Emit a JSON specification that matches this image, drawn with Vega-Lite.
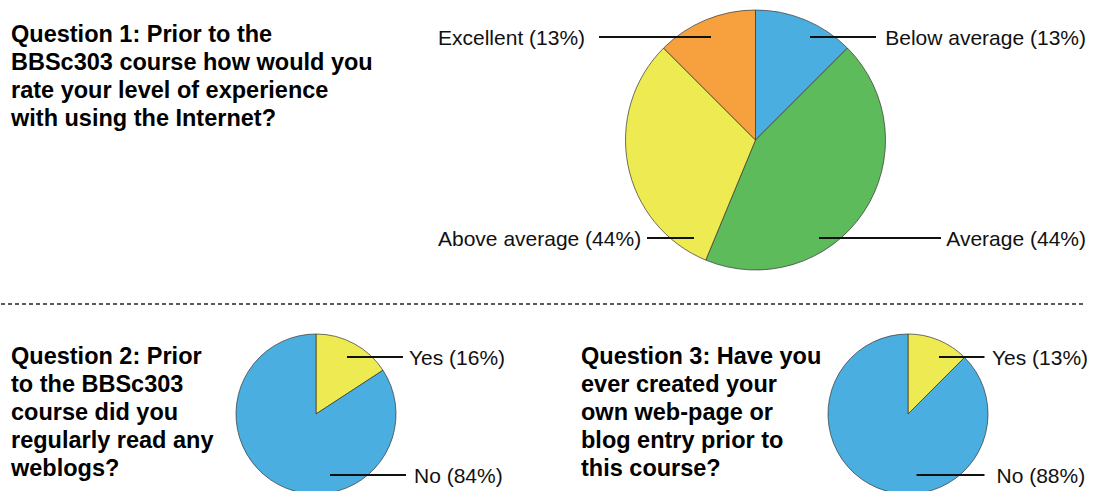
{
  "$schema": "https://vega.github.io/schema/vega-lite/v6.json",
  "padding": 0,
  "spacing": 0,
  "resolve": {"scale": {"color": "independent", "theta": "independent"}},
  "config": {"view": {"stroke": null}, "font": "Liberation Sans"},
  "datasets": {
    "questions": [
      {"q": "Q1", "text": "Question 1: Prior to the\nBBSc303 course how would you\nrate your level of experience\nwith using the Internet?"},
      {"q": "Q2", "text": "Question 2: Prior\nto the BBSc303\ncourse did you\nregularly read any\nweblogs?"},
      {"q": "Q3", "text": "Question 3: Have you\never created your\nown web-page or\nblog entry prior to\nthis course?"}
    ],
    "q1": [
      {"seq": 1, "rating": "Below average", "count": 2, "label": "Below average (13%)"},
      {"seq": 2, "rating": "Average", "count": 7, "label": "Average (44%)"},
      {"seq": 3, "rating": "Above average", "count": 5, "label": "Above average (44%)"},
      {"seq": 4, "rating": "Excellent", "count": 2, "label": "Excellent (13%)"}
    ],
    "q2": [
      {"seq": 1, "answer": "Yes", "count": 3, "label": "Yes (16%)"},
      {"seq": 2, "answer": "No", "count": 16, "label": "No (84%)"}
    ],
    "q3": [
      {"seq": 1, "answer": "Yes", "count": 2, "label": "Yes (13%)"},
      {"seq": 2, "answer": "No", "count": 14, "label": "No (88%)"}
    ],
    "blank": [{}]
  },
  "vconcat": [
    {
      "spacing": 0,
      "bounds": "flush",
      "resolve": {"scale": {"color": "independent", "theta": "independent"}},
      "hconcat": [
        {
          "width": 420, "height": 280,
          "data": {"name": "questions"},
          "transform": [{"filter": "datum.q === 'Q1'"}],
          "mark": {"type": "text", "align": "left", "baseline": "alphabetic", "fontSize": 23.5, "fontWeight": "bold", "lineHeight": 28, "lineBreak": "\n", "fill": "#000", "dx": 10, "dy": 41.5},
          "encoding": {
            "x": {"datum": 0, "scale": {"domain": [0, 1]}, "axis": null},
            "y": {"datum": 1, "scale": {"domain": [0, 1]}, "axis": null},
            "text": {"field": "text"}
          }
        },
        {
          "width": 669, "height": 280,
          "data": {"name": "q1"},
          "layer": [
            {
              "mark": {"type": "arc", "outerRadius": 130, "stroke": "#333", "strokeWidth": 0.7},
              "encoding": {
                "theta": {"field": "count", "type": "quantitative", "stack": true},
                "order": {"field": "seq", "type": "quantitative"},
                "color": {"field": "rating", "type": "nominal", "legend": null,
                  "scale": {"domain": ["Below average", "Average", "Above average", "Excellent"], "range": ["#4aafe0", "#5dbb5c", "#eeea52", "#f6a13d"]}}
              }
            },
            {
              "transform": [{"filter": "datum.rating === 'Below average'"}],
              "layer": [
                {"mark": {"type": "text", "align": "right", "baseline": "alphabetic", "fontSize": 21, "fill": "#111"},
                 "encoding": {"x": {"datum": 330.5, "scale": {"domain": [-334.5, 334.5], "nice": false}, "axis": null}, "y": {"datum": -95, "scale": {"domain": [-140, 140], "nice": false, "reverse": true}, "axis": null}, "text": {"field": "label"}}},
                {"mark": {"type": "rule", "strokeWidth": 2, "color": "#111"},
                 "encoding": {"x": {"datum": 54.5, "scale": {"domain": [-334.5, 334.5], "nice": false}, "axis": null}, "x2": {"datum": 120.5}, "y": {"datum": -103, "scale": {"domain": [-140, 140], "nice": false, "reverse": true}, "axis": null}}}
              ]
            },
            {
              "transform": [{"filter": "datum.rating === 'Average'"}],
              "layer": [
                {"mark": {"type": "text", "align": "right", "baseline": "alphabetic", "fontSize": 21, "fill": "#111"},
                 "encoding": {"x": {"datum": 330.5, "scale": {"domain": [-334.5, 334.5], "nice": false}, "axis": null}, "y": {"datum": 106, "scale": {"domain": [-140, 140], "nice": false, "reverse": true}, "axis": null}, "text": {"field": "label"}}},
                {"mark": {"type": "rule", "strokeWidth": 2, "color": "#111"},
                 "encoding": {"x": {"datum": 63.5, "scale": {"domain": [-334.5, 334.5], "nice": false}, "axis": null}, "x2": {"datum": 185.5}, "y": {"datum": 98, "scale": {"domain": [-140, 140], "nice": false, "reverse": true}, "axis": null}}}
              ]
            },
            {
              "transform": [{"filter": "datum.rating === 'Above average'"}],
              "layer": [
                {"mark": {"type": "text", "align": "left", "baseline": "alphabetic", "fontSize": 21, "fill": "#111"},
                 "encoding": {"x": {"datum": -317.5, "scale": {"domain": [-334.5, 334.5], "nice": false}, "axis": null}, "y": {"datum": 106, "scale": {"domain": [-140, 140], "nice": false, "reverse": true}, "axis": null}, "text": {"field": "label"}}},
                {"mark": {"type": "rule", "strokeWidth": 2, "color": "#111"},
                 "encoding": {"x": {"datum": -108.5, "scale": {"domain": [-334.5, 334.5], "nice": false}, "axis": null}, "x2": {"datum": -61.5}, "y": {"datum": 98, "scale": {"domain": [-140, 140], "nice": false, "reverse": true}, "axis": null}}}
              ]
            },
            {
              "transform": [{"filter": "datum.rating === 'Excellent'"}],
              "layer": [
                {"mark": {"type": "text", "align": "left", "baseline": "alphabetic", "fontSize": 21, "fill": "#111"},
                 "encoding": {"x": {"datum": -317.5, "scale": {"domain": [-334.5, 334.5], "nice": false}, "axis": null}, "y": {"datum": -95, "scale": {"domain": [-140, 140], "nice": false, "reverse": true}, "axis": null}, "text": {"field": "label"}}},
                {"mark": {"type": "rule", "strokeWidth": 2, "color": "#111"},
                 "encoding": {"x": {"datum": -156.5, "scale": {"domain": [-334.5, 334.5], "nice": false}, "axis": null}, "x2": {"datum": -44.5}, "y": {"datum": -103, "scale": {"domain": [-140, 140], "nice": false, "reverse": true}, "axis": null}}}
              ]
            }
          ]
        }
      ]
    },
    {
      "width": 1082, "height": 48,
      "data": {"name": "blank"},
      "mark": {"type": "rule", "strokeWidth": 1.5, "color": "#222", "strokeDash": [4, 3]},
      "encoding": {"y": {"datum": 0, "scale": {"domain": [-24, 24], "nice": false}, "axis": null}}
    },
    {
      "spacing": 0,
      "bounds": "flush",
      "resolve": {"scale": {"color": "independent", "theta": "independent"}},
      "hconcat": [
        {
          "width": 50, "height": 172,
          "data": {"name": "questions"},
          "transform": [{"filter": "datum.q === 'Q2'"}],
          "mark": {"type": "text", "align": "left", "baseline": "alphabetic", "fontSize": 23.5, "fontWeight": "bold", "lineHeight": 28, "lineBreak": "\n", "fill": "#000", "dx": 10, "dy": 35.5},
          "encoding": {
            "x": {"datum": 0, "scale": {"domain": [0, 1]}, "axis": null},
            "y": {"datum": 1, "scale": {"domain": [0, 1]}, "axis": null},
            "text": {"field": "text"}
          }
        },
        {
          "width": 530, "height": 172,
          "data": {"name": "q2"},
          "layer": [
            {
              "mark": {"type": "arc", "outerRadius": 80, "stroke": "#333", "strokeWidth": 0.7},
              "encoding": {
                "theta": {"field": "count", "type": "quantitative", "stack": true},
                "order": {"field": "seq", "type": "quantitative"},
                "color": {"field": "answer", "type": "nominal", "legend": null,
                  "scale": {"domain": ["Yes", "No"], "range": ["#eeea52", "#4aafe0"]}}
              }
            },
            {
              "transform": [{"filter": "datum.answer === 'Yes'"}],
              "layer": [
                {"mark": {"type": "text", "align": "left", "baseline": "alphabetic", "fontSize": 21, "fill": "#111"},
                 "encoding": {"x": {"datum": 93, "scale": {"domain": [-265, 265], "nice": false}, "axis": null}, "y": {"datum": -49, "scale": {"domain": [-86, 86], "nice": false, "reverse": true}, "axis": null}, "text": {"field": "label"}}},
                {"mark": {"type": "rule", "strokeWidth": 2, "color": "#111"},
                 "encoding": {"x": {"datum": 31, "scale": {"domain": [-265, 265], "nice": false}, "axis": null}, "x2": {"datum": 87}, "y": {"datum": -57, "scale": {"domain": [-86, 86], "nice": false, "reverse": true}, "axis": null}}}
              ]
            },
            {
              "transform": [{"filter": "datum.answer === 'No'"}],
              "layer": [
                {"mark": {"type": "text", "align": "left", "baseline": "alphabetic", "fontSize": 21, "fill": "#111"},
                 "encoding": {"x": {"datum": 98, "scale": {"domain": [-265, 265], "nice": false}, "axis": null}, "y": {"datum": 69, "scale": {"domain": [-86, 86], "nice": false, "reverse": true}, "axis": null}, "text": {"field": "label"}}},
                {"mark": {"type": "rule", "strokeWidth": 2, "color": "#111"},
                 "encoding": {"x": {"datum": 14, "scale": {"domain": [-265, 265], "nice": false}, "axis": null}, "x2": {"datum": 90}, "y": {"datum": 61, "scale": {"domain": [-86, 86], "nice": false, "reverse": true}, "axis": null}}}
              ]
            }
          ]
        },
        {
          "width": 246.5, "height": 172,
          "data": {"name": "questions"},
          "transform": [{"filter": "datum.q === 'Q3'"}],
          "mark": {"type": "text", "align": "left", "baseline": "alphabetic", "fontSize": 23.5, "fontWeight": "bold", "lineHeight": 28, "lineBreak": "\n", "fill": "#000", "dx": 0, "dy": 35.5},
          "encoding": {
            "x": {"datum": 0, "scale": {"domain": [0, 1]}, "axis": null},
            "y": {"datum": 1, "scale": {"domain": [0, 1]}, "axis": null},
            "text": {"field": "text"}
          }
        },
        {
          "width": 160, "height": 172,
          "data": {"name": "q3"},
          "layer": [
            {
              "mark": {"type": "arc", "outerRadius": 80, "stroke": "#333", "strokeWidth": 0.7},
              "encoding": {
                "theta": {"field": "count", "type": "quantitative", "stack": true},
                "order": {"field": "seq", "type": "quantitative"},
                "color": {"field": "answer", "type": "nominal", "legend": null,
                  "scale": {"domain": ["Yes", "No"], "range": ["#eeea52", "#4aafe0"]}}
              }
            },
            {
              "transform": [{"filter": "datum.answer === 'Yes'"}],
              "layer": [
                {"mark": {"type": "text", "align": "left", "baseline": "alphabetic", "fontSize": 21, "fill": "#111"},
                 "encoding": {"x": {"datum": 84, "scale": {"domain": [-80, 80], "nice": false}, "axis": null}, "y": {"datum": -49, "scale": {"domain": [-86, 86], "nice": false, "reverse": true}, "axis": null}, "text": {"field": "label"}}},
                {"mark": {"type": "rule", "strokeWidth": 2, "color": "#111"},
                 "encoding": {"x": {"datum": 31, "scale": {"domain": [-80, 80], "nice": false}, "axis": null}, "x2": {"datum": 76.5}, "y": {"datum": -57, "scale": {"domain": [-86, 86], "nice": false, "reverse": true}, "axis": null}}}
              ]
            },
            {
              "transform": [{"filter": "datum.answer === 'No'"}],
              "layer": [
                {"mark": {"type": "text", "align": "left", "baseline": "alphabetic", "fontSize": 21, "fill": "#111"},
                 "encoding": {"x": {"datum": 88.5, "scale": {"domain": [-80, 80], "nice": false}, "axis": null}, "y": {"datum": 69, "scale": {"domain": [-86, 86], "nice": false, "reverse": true}, "axis": null}, "text": {"field": "label"}}},
                {"mark": {"type": "rule", "strokeWidth": 2, "color": "#111"},
                 "encoding": {"x": {"datum": 8.5, "scale": {"domain": [-80, 80], "nice": false}, "axis": null}, "x2": {"datum": 76.5}, "y": {"datum": 61, "scale": {"domain": [-86, 86], "nice": false, "reverse": true}, "axis": null}}}
              ]
            }
          ]
        }
      ]
    }
  ]
}
